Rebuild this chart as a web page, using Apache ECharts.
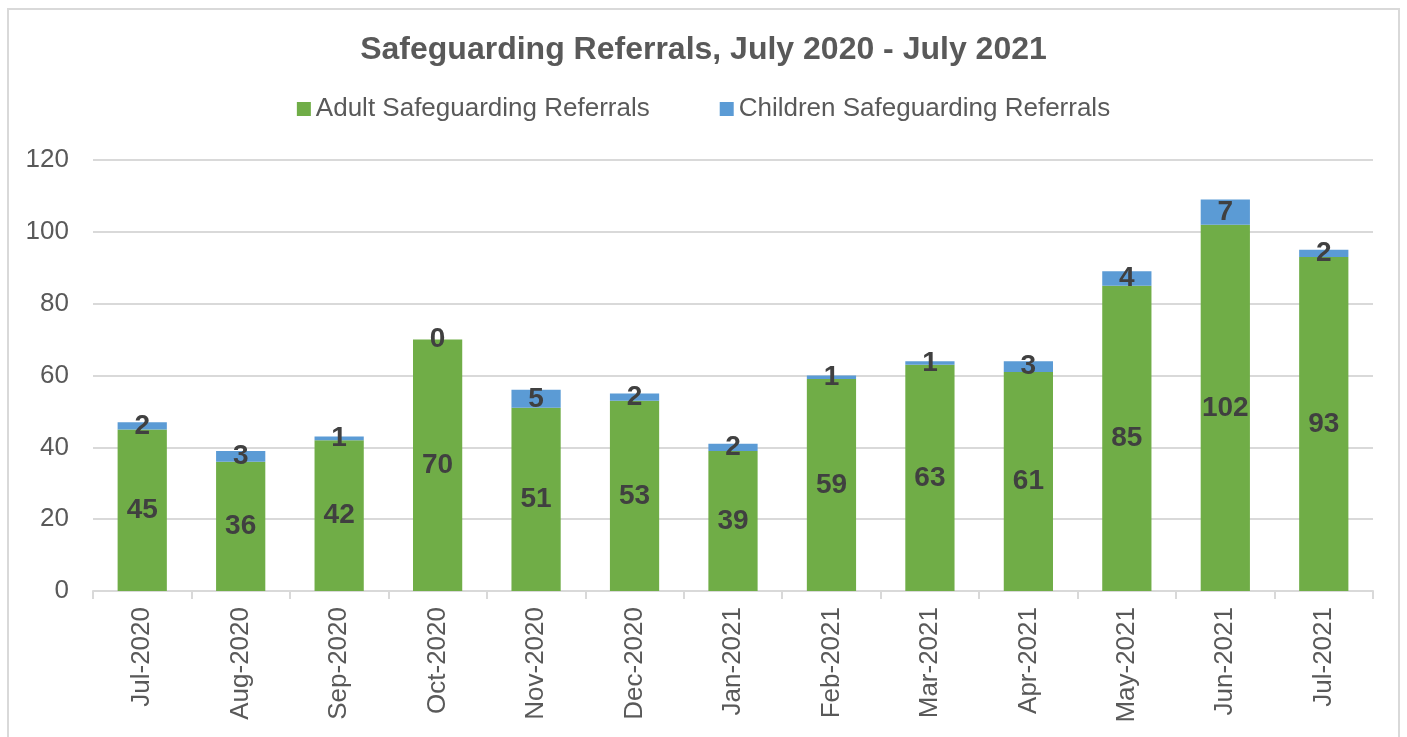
<!DOCTYPE html>
<html>
<head>
<meta charset="utf-8">
<script src="https://cdn.jsdelivr.net/npm/echarts@6/dist/echarts.min.js"></script>
<style>
  html, body { margin: 0; padding: 0; background: #fff; }
  #frame { position: absolute; left: 7px; top: 8px; width: 1393px; height: 740px; border: 2px solid #d9d9d9; box-sizing: border-box; }
  #chart { position: absolute; left: 0; top: 0; width: 1407px; height: 737px; }
</style>
</head>
<body>
<div id="frame"></div>
<div id="chart"></div>
<script>
// months along the x axis
const months = ['Jul-2020', 'Aug-2020', 'Sep-2020', 'Oct-2020', 'Nov-2020', 'Dec-2020',
  'Jan-2021', 'Feb-2021', 'Mar-2021', 'Apr-2021', 'May-2021', 'Jun-2021', 'Jul-2021']
const adultReferrals = [45, 36, 42, 70, 51, 53, 39, 59, 63, 61, 85, 102, 93]
const childReferrals = [2, 3, 1, 0, 5, 2, 2, 1, 1, 3, 4, 7, 2]

const myChart = echarts.init(document.getElementById('chart'))

const labelStyle = {
  show: true,
  position: 'inside',
  color: '#404040',
  fontSize: 28,
  fontWeight: 'bold',
  fontFamily: 'Liberation Sans'
}

const option = {
  animation: false,
  textStyle: { fontFamily: 'Liberation Sans' },
  title: {
    text: 'Safeguarding Referrals, July 2020 - July 2021',
    left: 'center',
    top: 29,
    textStyle: { color: '#595959', fontSize: 32, fontWeight: 'bold', fontFamily: 'Liberation Sans' }
  },
  legend: {
    top: 91,
    left: 'center',
    itemWidth: 14,
    itemHeight: 14,
    itemGap: 70,
    icon: 'rect',
    textStyle: { color: '#595959', fontSize: 26, fontFamily: 'Liberation Sans' }
  },
  grid: { left: 93, right: 34, top: 160, bottom: 146 },
  xAxis: {
    type: 'category',
    data: months,
    axisLine: { lineStyle: { color: '#d9d9d9', width: 2 } },
    axisTick: { show: true, length: 8, lineStyle: { color: '#d9d9d9', width: 2 } },
    axisLabel: { rotate: 90, color: '#595959', fontSize: 26, margin: 16 }
  },
  yAxis: {
    type: 'value',
    min: 0,
    max: 120,
    interval: 20,
    axisLine: { show: false },
    axisTick: { show: false },
    axisLabel: { color: '#595959', fontSize: 26, margin: 24 },
    splitLine: { lineStyle: { color: '#d9d9d9', width: 2 } }
  },
  series: [
    {
      name: 'Adult Safeguarding Referrals',
      type: 'bar',
      stack: 'total',
      barWidth: '50%',
      itemStyle: { color: '#70ad47' },
      label: labelStyle,
      data: adultReferrals
    },
    {
      name: 'Children Safeguarding Referrals',
      type: 'bar',
      stack: 'total',
      itemStyle: { color: '#5b9bd5' },
      label: labelStyle,
      data: childReferrals
    }
  ]
}

myChart.setOption(option)
</script>
</body>
</html>
